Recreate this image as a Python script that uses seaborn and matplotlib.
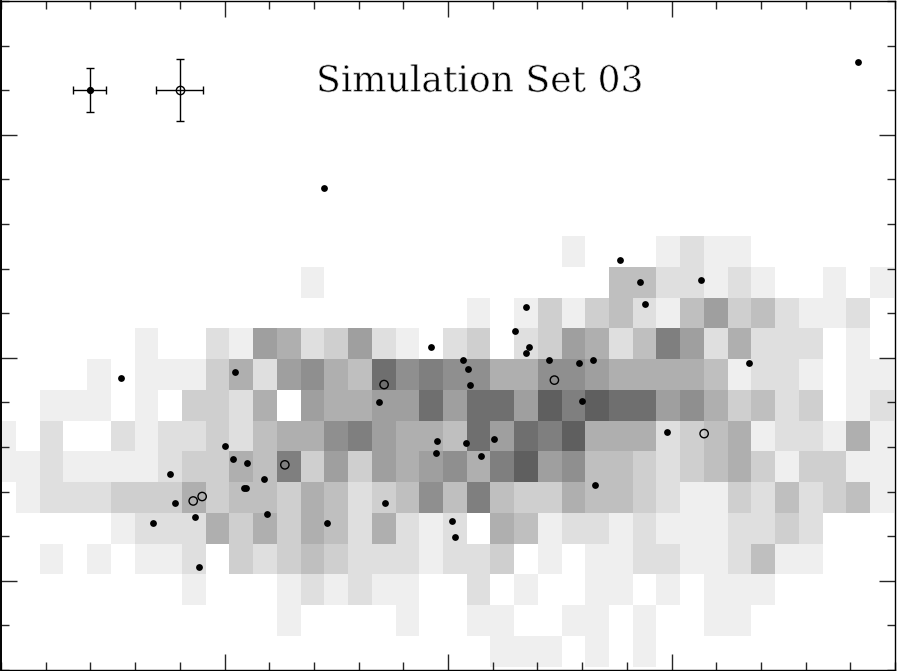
from matplotlib import pyplot as plt
from matplotlib.colors import LinearSegmentedColormap
from matplotlib.ticker import MultipleLocator, FixedLocator
import matplotlib.patheffects as pe
import numpy as np
import seaborn as sns

### DATA ###

# Counts per cell, top row first, read from the grey levels
COUNTS = [
    [0,0,0,0,0,0,0,0,0,0,0,0,0,0,0,0,0,0,0,0,0,0,0,0,1,0,0,0,1,2,1,1,0,0,0,0,0,0],
    [0,0,0,0,0,0,0,0,0,0,0,0,0,1,0,0,0,0,0,0,0,0,0,0,0,0,4,4,2,2,1,2,1,0,0,1,0,1],
    [0,0,0,0,0,0,0,0,0,0,0,0,0,0,0,0,0,0,0,0,1,0,1,3,1,3,4,2,1,4,6,3,4,2,1,1,2,0],
    [0,0,0,0,0,0,1,0,0,2,1,6,5,2,3,6,2,1,0,2,3,0,2,3,6,5,2,4,8,6,2,5,2,2,2,0,1,0],
    [0,0,0,0,1,0,1,1,1,3,5,2,6,7,5,4,9,7,8,7,7,5,5,7,7,6,5,5,5,5,4,1,2,2,1,0,1,1],
    [0,0,1,1,1,0,1,0,3,3,2,5,0,6,5,5,6,6,9,6,9,9,6,10,8,10,9,9,6,7,5,3,4,2,3,0,1,2],
    [1,0,2,0,0,2,1,2,2,3,2,4,5,5,7,8,6,5,5,4,9,6,9,8,10,5,5,5,2,3,4,5,1,2,2,1,5,1],
    [1,1,2,1,1,1,1,2,3,3,5,4,8,3,6,3,6,5,6,7,5,8,10,6,7,4,4,3,2,3,4,5,3,1,3,3,1,1],
    [0,1,2,2,2,3,3,3,5,3,4,4,3,5,4,2,3,4,7,4,8,4,3,3,5,4,4,3,2,1,1,3,2,4,2,3,4,1],
    [0,0,0,0,0,1,2,2,2,5,3,5,3,5,4,2,5,2,1,2,0,5,4,1,2,2,1,2,1,1,1,2,2,3,2,0,0,0],
    [0,0,1,0,1,0,1,1,2,0,3,2,3,4,3,2,2,2,1,2,2,3,0,1,0,1,1,2,2,1,1,2,4,1,1,0,0,0],
    [0,0,0,0,0,0,0,0,1,0,0,0,1,2,1,2,1,1,0,0,2,0,1,0,0,1,1,0,1,0,1,1,1,0,0,0,0,0],
    [0,0,0,0,0,0,0,0,0,0,0,0,1,0,0,0,0,1,0,0,1,1,0,0,1,1,0,1,0,0,1,1,0,0,0,0,0,0],
    [0,0,0,0,0,0,0,0,0,0,0,0,0,0,0,0,0,0,0,0,0,1,1,1,0,1,0,1,0,0,0,0,0,0,0,0,0,0],
]

filled_x = [19.17, 7.23, 13.85, 14.30, 15.66, 14.41, 11.74, 11.50, 9.62, 11.81, 11.74, 10.34,
            12.27, 13.25, 12.93, 10.44, 16.74, 2.68, 5.23, 10.49, 8.46, 12.99, 14.90, 9.75,
            10.40, 11.04, 9.73, 10.74, 5.01, 5.18, 5.50, 3.79, 5.88, 5.43, 5.49, 3.90, 8.59,
            13.29, 5.94, 4.34, 3.40, 7.29, 10.08, 10.16, 4.43]
filled_y = [13.64, 10.80, 9.19, 8.70, 8.74, 8.20, 8.14, 7.60, 7.24, 7.24, 7.11, 6.95,
            6.94, 6.95, 6.89, 6.75, 6.89, 6.55, 6.69, 6.39, 6.00, 6.04, 5.34, 5.13,
            5.10, 5.17, 4.87, 4.80, 5.03, 4.74, 4.64, 4.39, 4.29, 4.09, 4.09, 3.74, 3.74,
            4.15, 3.50, 3.44, 3.30, 3.30, 3.34, 2.99, 2.30]

open_x = [8.57, 12.38, 15.73, 6.35, 4.50, 4.30]
open_y = [6.40, 6.50, 5.30, 4.60, 3.89, 3.79]

# Typical error bars shown top left
sample_x = [1.99, 4.00]
sample_y = [13.0, 13.0]
sample_xerr = [0.37, 0.53]
sample_yerr = [0.49, 0.70]

TITLE = "Simulation Set 03"

### LAYOUT ###

W, H = 897, 671
AX_L, AX_R, AX_T, AX_B = 1, 895, 1, 670  # frame in pixels
XMAX, YMAX = 20, 15

sns.set_theme(style="white")
fig = plt.figure(figsize=(W / 100, H / 100), dpi=100)

# Grey grid sits in its own axes under the frame
hist_ax = fig.add_axes([-7.72 / W, (H - 666.5) / H, 901.4 / W, 430.5 / H], zorder=1)
greys = LinearSegmentedColormap.from_list("greys", ["#ffffff", "#5f5f5f"])
sns.heatmap(np.array(COUNTS), vmin=0, vmax=10, cmap=greys, cbar=False,
            xticklabels=False, yticklabels=False, ax=hist_ax)
hist_ax.axis("off")

ax = fig.add_axes([AX_L / W, (H - AX_B) / H, (AX_R - AX_L) / W, (AX_B - AX_T) / H], zorder=2)
ax.patch.set_alpha(0)

sns.scatterplot(x=filled_x, y=filled_y, color="black", s=24, linewidth=0, ax=ax, legend=False)
sns.scatterplot(x=open_x, y=open_y, facecolor="none", edgecolor="black", s=36, linewidth=1.0,
                ax=ax, legend=False)

ax.errorbar(sample_x[0], sample_y[0], xerr=sample_xerr[0], yerr=sample_yerr[0], fmt="o",
            color="black", ms=4.2, elinewidth=1.0, capsize=3.2, capthick=1.0)
ax.errorbar(sample_x[1], sample_y[1], xerr=sample_xerr[1], yerr=sample_yerr[1], fmt="o",
            color="black", mfc="none", ms=6, mew=1.0, elinewidth=1.0, capsize=3.2, capthick=1.0)

# white stroke on top thins the glyphs towards the light look of the original
title = ax.text(0.5355, 0.8795, TITLE, transform=ax.transAxes, ha="center", va="center",
                family="DejaVu Serif", fontsize=26, color="black")
title.set_path_effects([pe.Normal(), pe.Stroke(linewidth=0.5, foreground="white")])

ax.set_xlim(0, XMAX)
ax.set_ylim(0, YMAX)
ax.xaxis.set_major_locator(FixedLocator([5, 10, 15]))
ax.xaxis.set_minor_locator(MultipleLocator(1))
ax.yaxis.set_major_locator(FixedLocator([2, 7, 12]))
ax.yaxis.set_minor_locator(MultipleLocator(1))
ax.tick_params(which="major", direction="in", length=11.5, width=1.0, top=True, right=True,
               bottom=True, left=True, labelbottom=False, labelleft=False)
ax.tick_params(which="minor", direction="in", length=5.8, width=1.0, top=True, right=True,
               bottom=True, left=True)
for side, spine in ax.spines.items():
    spine.set_visible(True)
    spine.set_color("black")
    spine.set_linewidth(1.0)
ax.spines["left"].set_linewidth(1.4)

fig.savefig("out.png", dpi=100)
